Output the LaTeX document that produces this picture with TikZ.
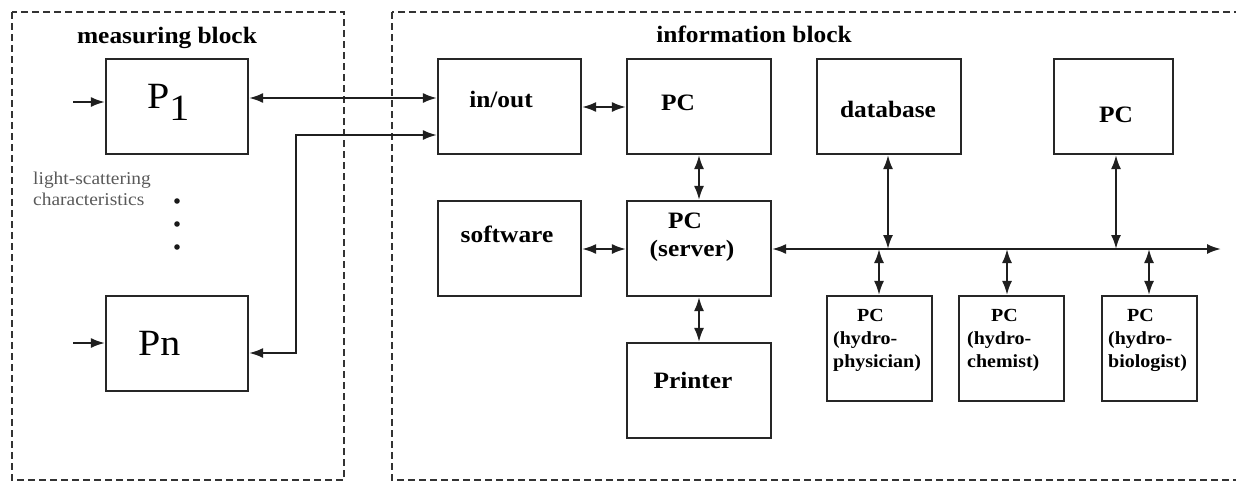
\documentclass[tikz,border=0pt]{standalone}
\usepackage{fontspec}
\setmainfont{Liberation Serif}[FakeStretch=1.08]
\usetikzlibrary{arrows.meta}
\begin{document}
\begin{tikzpicture}[x=1pt,y=-1pt,
  blk/.style={draw=black!85,line width=2.1pt,inner sep=0pt},
  grp/.style={draw=black!80,line width=1.5pt,dash pattern=on 7pt off 4pt},
  lbl/.style={font=\fontsize{23.5}{26}\selectfont\bfseries,inner sep=0pt,anchor=base},
  sml/.style={font=\fontsize{18.5}{22}\selectfont\bfseries,inner sep=0pt,anchor=base west},
  gtx/.style={font=\fontsize{18}{21}\selectfont,text=black!65,inner sep=0pt,anchor=base west},
  big/.style={font=\fontsize{37}{40}\selectfont,inner sep=0pt,anchor=base west},
  con/.style={line width=2.1pt,draw=black!88,{Latex[length=14pt,width=10pt]}-{Latex[length=14pt,width=10pt]}},
  one/.style={line width=2.1pt,draw=black!88,-{Latex[length=14pt,width=10pt]}},
]
\useasboundingbox (0,0) rectangle (1236,483);

% group frames
\draw[grp] (12,12) rectangle (344,480);
\draw[grp] (392,12) rectangle (1245,480);
\node[lbl] (tm) at (167,43) {measuring block};
\node[lbl] (ti) at (754,42) {information block};

% boxes
\node[blk,minimum width=142,minimum height=95] (P1) at (177,106.5) {};
\node[blk,minimum width=142,minimum height=95] (Pn) at (177,343.5) {};
\node[blk,minimum width=143,minimum height=95] (io) at (509.5,106.5) {};
\node[blk,minimum width=144,minimum height=95] (pc1) at (699,106.5) {};
\node[blk,minimum width=143,minimum height=95] (sw) at (509.5,248.5) {};
\node[blk,minimum width=144,minimum height=95] (srv) at (699,248.5) {};
\node[blk,minimum width=144,minimum height=95] (prn) at (699,390.5) {};
\node[blk,minimum width=144,minimum height=95] (db) at (889,106.5) {};
\node[blk,minimum width=119,minimum height=95] (pcr) at (1113.5,106.5) {};
\node[blk,minimum width=105,minimum height=105] (hp) at (879.5,348.5) {};
\node[blk,minimum width=105,minimum height=105] (hc) at (1011.5,348.5) {};
\node[blk,minimum width=95,minimum height=105] (hb) at (1149.5,348.5) {};

% texts
\node[big] (tP1) at (147,108) {P\raisebox{-12pt}{1}};
\node[big] (tPn) at (138,355) {Pn};
\node[gtx] (g1) at (33,184) {light-scattering};
\node[gtx] (g2) at (33,205) {characteristics};
\node[lbl] (tio) at (501,107) {in/out};
\node[lbl] (tpc1) at (678,110) {PC};
\node[lbl] (tsw) at (507,242) {software};
\node[lbl] (tsrv1) at (685,228) {PC};
\node[lbl] (tsrv2) at (692,256) {(server)};
\node[lbl] (tprn) at (693,388) {Printer};
\node[lbl] (tdb) at (888,117) {database};
\node[lbl] (tpcr) at (1116,122) {PC};
\node[sml] (hp1) at (857,321) {PC};
\node[sml] (hp2) at (833,344) {(hydro-};
\node[sml] (hp3) at (833,367) {physician)};
\node[sml] (hc1) at (991,321) {PC};
\node[sml] (hc2) at (967,344) {(hydro-};
\node[sml] (hc3) at (967,367) {chemist)};
\node[sml] (hb1) at (1127,321) {PC};
\node[sml] (hb2) at (1108,344) {(hydro-};
\node[sml] (hb3) at (1108,367) {biologist)};

% dots
\fill[black!90] (177,201) circle (2.8);
\fill[black!90] (177,224) circle (2.8);
\fill[black!90] (177,247) circle (2.8);

% coordinates
\coordinate (in1) at (73,102);
\coordinate (inn) at (73,343);
\coordinate (bk1) at (296,135);
\coordinate (bk2) at (296,353);
\coordinate (busR) at (1221,249);

% connectors
\draw[one] (in1) -- (P1.west |- in1);
\draw[one] (inn) -- (Pn.west |- inn);
\draw[con] (P1.east |- 0,98) -- (io.west |- 0,98);
\draw[con] (io.west |- bk1) -- (bk1) -- (bk2) -- (Pn.east |- bk2);
\draw[con] (io.east |- 0,107) -- (pc1.west |- 0,107);
\draw[con] (pc1.south) -- (srv.north);
\draw[con] (sw.east |- 0,249) -- (srv.west |- 0,249);
\draw[con] (srv.south) -- (prn.north);
\draw[con] (srv.east |- busR) -- (busR);
\draw[con] (db.south -| 888,0) -- (888,249);
\draw[con] (pcr.south -| 1116,0) -- (1116,249);
\draw[con] (879,249) -- (hp.north -| 879,0);
\draw[con] (1007,249) -- (hc.north -| 1007,0);
\draw[con] (1149,249) -- (hb.north -| 1149,0);
\end{tikzpicture}
\end{document}
